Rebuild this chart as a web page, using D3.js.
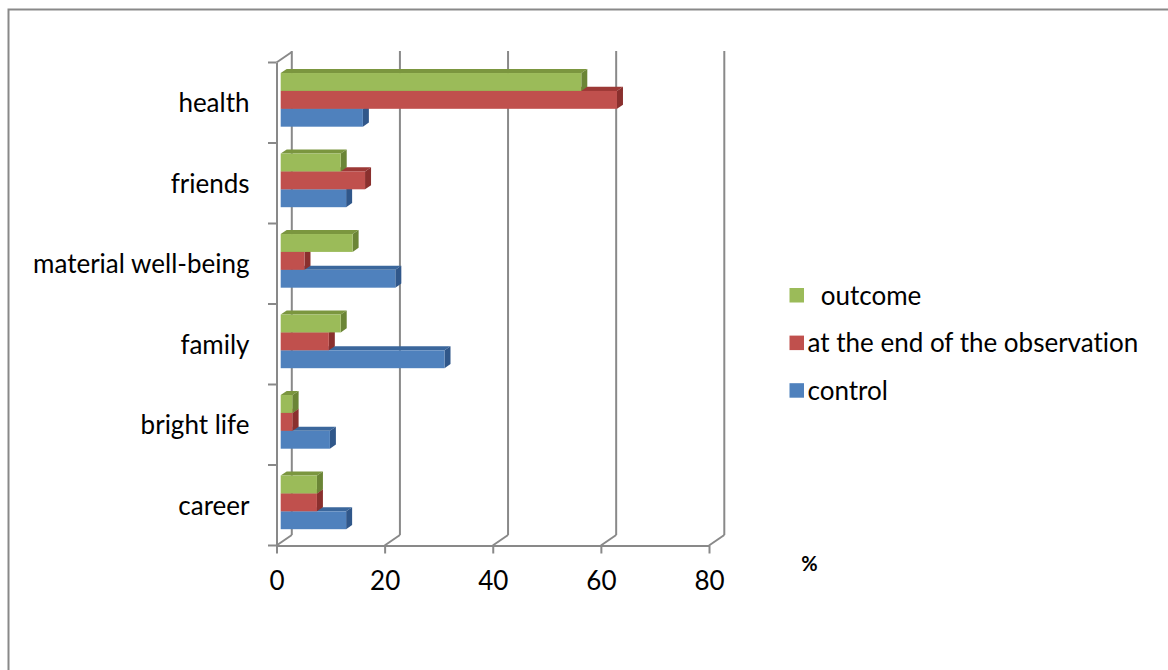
<!DOCTYPE html>
<html>
<head>
<meta charset="utf-8">
<script src="https://cdn.jsdelivr.net/npm/d3@7"></script>
<style>
  html, body { margin: 0; padding: 0; background: #fff; }
  svg { display: block; }
  text { font-family: Lato, "Noto Sans", sans-serif; fill: #000; font-variant-ligatures: none; }
</style>
</head>
<body>
<svg id="chart" width="1168" height="670"></svg>
<script>
// Life values ranking, % of respondents per group
const categories = ["health", "friends", "material well-being", "family", "bright life", "career"];
const outcome    = [55.6, 11.1, 13.3, 11.1, 2.2, 6.7];
const endOfObs   = [62.2, 15.6, 4.4, 8.9, 2.2, 6.7];
const control    = [15.2, 12.1, 21.2, 30.3, 9.1, 12.1];
const seriesNames = ["  outcome", "at the end of the observation", "control"];
const xTicks = [0, 20, 40, 60, 80];
const axisUnit = "%";

const colors = {
  outcome: { front: "#9BBB59", top: "#7B963F", side: "#6B8536" },
  end:     { front: "#C0504D", top: "#9C3936", side: "#8A302E" },
  control: { front: "#4F81BD", top: "#3B679C", side: "#30578A" }
};
const series = [
  { key: "outcome", name: seriesNames[0], values: outcome },
  { key: "end",     name: seriesNames[1], values: endOfObs },
  { key: "control", name: seriesNames[2], values: control }
];

const svg = d3.select("#chart");
const gridColor = "#898989";
const fontSize = 26;

// outer frame
svg.append("rect")
  .attr("x", 8.5).attr("y", 9.5)
  .attr("width", 1200).attr("height", 700)
  .attr("fill", "none").attr("stroke", gridColor).attr("stroke-width", 2);

// scales (front plane of the 3D box)
const x = d3.scaleLinear().domain([0, 80]).range([276.5, 709]);
const y = d3.scaleBand().domain(categories).range([62.5, 545.5]);
const inner = d3.scaleBand().domain(series.map(s => s.key))
  .range([0, y.bandwidth()]).paddingOuter(0.75);

// depth vector from front plane to back wall
const depth = { dx: 15.3, dy: -10.5 };
const off = t => [t * depth.dx, t * depth.dy];
const barFront = 0.275, barBack = 0.667;
const yTop = y.range()[0], yBot = y.range()[1];

const walls = svg.append("g")
  .attr("stroke", gridColor).attr("stroke-width", 2).attr("fill", "none");

// back wall gridlines
walls.selectAll("line.grid").data(xTicks).join("line")
  .attr("class", "grid")
  .attr("x1", d => x(d) + depth.dx).attr("x2", d => x(d) + depth.dx)
  .attr("y1", yTop + depth.dy - 1).attr("y2", yBot + depth.dy);

// floor diagonals
walls.selectAll("line.floor").data(xTicks).join("line")
  .attr("class", "floor")
  .attr("x1", d => x(d)).attr("y1", yBot)
  .attr("x2", d => x(d) + depth.dx).attr("y2", yBot + depth.dy);

// side wall top edge
walls.append("line")
  .attr("x1", x(0)).attr("y1", yTop)
  .attr("x2", x(0) + depth.dx).attr("y2", yTop + depth.dy);

// category boundary ticks
const bounds = categories.map(c => y(c)).concat([yBot]);
walls.selectAll("line.ytick").data(bounds).join("line")
  .attr("class", "ytick")
  .attr("x1", x(0) - 8.5).attr("x2", x(0))
  .attr("y1", d => d).attr("y2", d => d);

// bars
const bars = svg.append("g");
const f = off(barFront), b = off(barBack);
categories.forEach((cat, ci) => {
  // draw lowest bar first so upper front faces cover lower top faces
  series.slice().reverse().forEach(s => {
    const v = s.values[ci];
    const y0 = y(cat) + inner(s.key);
    const y1 = y0 + inner.bandwidth();
    const xa = x(0), xb = x(v);
    const c = colors[s.key];
    const g = bars.append("g");
    g.append("polygon").attr("fill", c.top)
      .attr("points", [[xa + f[0], y0 + f[1]], [xb + f[0], y0 + f[1]], [xb + b[0], y0 + b[1]], [xa + b[0], y0 + b[1]]].join(" "));
    g.append("polygon").attr("fill", c.side)
      .attr("points", [[xb + f[0], y0 + f[1]], [xb + b[0], y0 + b[1]], [xb + b[0], y1 + b[1]], [xb + f[0], y1 + f[1]]].join(" "));
    g.append("rect").attr("fill", c.front)
      .attr("x", xa + f[0]).attr("y", y0 + f[1])
      .attr("width", xb - xa).attr("height", y1 - y0);
  });
});

// x axis
const xAxis = svg.append("g")
  .attr("transform", `translate(0,${yBot})`)
  .call(d3.axisBottom(x).tickValues(xTicks).tickSize(8).tickSizeOuter(0));
xAxis.selectAll("path, line").attr("stroke", gridColor).attr("stroke-width", 2);
xAxis.selectAll("text")
  .attr("y", 26).attr("dy", "0.71em")
  .style("font-size", fontSize + "px").style("font-family", "Lato, sans-serif").attr("fill", "#000");

// y axis (category labels)
const yAxis = svg.append("g")
  .attr("transform", `translate(${x(0)},0)`)
  .call(d3.axisLeft(y).tickSize(0).tickPadding(27).tickSizeOuter(0));
yAxis.select("path").attr("stroke", gridColor).attr("stroke-width", 2);
yAxis.selectAll("text")
  .attr("dy", "0.36em")
  .style("font-size", fontSize + "px").style("font-family", "Lato, sans-serif").attr("fill", "#000");

// unit label
svg.append("text")
  .attr("x", 809.5).attr("y", 570.5)
  .attr("text-anchor", "middle")
  .style("font-size", "20px").style("font-weight", "bold")
  .text(axisUnit);

// legend
const legend = svg.append("g").attr("transform", "translate(789.5,288)");
const rowGap = 47.6;
series.forEach((s, i) => {
  const row = legend.append("g").attr("transform", `translate(0,${i * rowGap})`);
  row.append("rect").attr("width", 14.5).attr("height", 14.5).attr("fill", colors[s.key].front);
  row.append("text")
    .attr("x", 18).attr("y", 7.5).attr("dy", "0.36em")
    .style("font-size", fontSize + "px").style("white-space", "pre")
    .text(s.name);
});
</script>
</body>
</html>
